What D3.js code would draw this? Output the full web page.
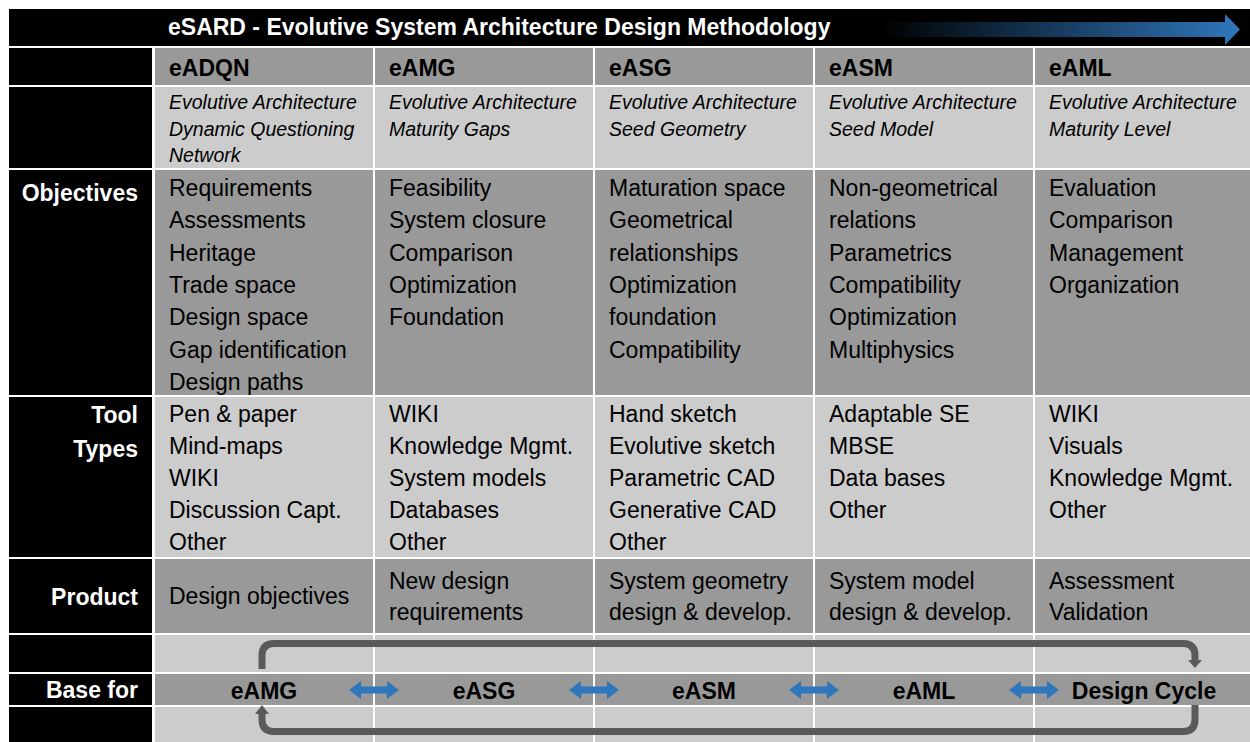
<!DOCTYPE html>
<html>
<head>
<meta charset="utf-8">
<script src="https://cdn.jsdelivr.net/npm/d3@7"></script>
<style>
  html, body { margin: 0; padding: 0; background: #fff; }
  svg { display: block; font-family: "Liberation Sans", Arial, sans-serif; }
</style>
</head>
<body>
<svg id="chart" width="1250" height="742"></svg>
<script>
// ---------------- DATA ----------------
const title = "eSARD - Evolutive System Architecture Design Methodology";
const stages = ["eADQN", "eAMG", "eASG", "eASM", "eAML"];
const subtitles = [
  ["Evolutive Architecture", "Dynamic Questioning", "Network"],
  ["Evolutive Architecture", "Maturity Gaps"],
  ["Evolutive Architecture", "Seed Geometry"],
  ["Evolutive Architecture", "Seed Model"],
  ["Evolutive Architecture", "Maturity Level"]
];
const objectives = [
  ["Requirements", "Assessments", "Heritage", "Trade space", "Design space", "Gap identification", "Design paths"],
  ["Feasibility", "System closure", "Comparison", "Optimization", "Foundation"],
  ["Maturation space", "Geometrical", "relationships", "Optimization", "foundation", "Compatibility"],
  ["Non-geometrical", "relations", "Parametrics", "Compatibility", "Optimization", "Multiphysics"],
  ["Evaluation", "Comparison", "Management", "Organization"]
];
const toolTypes = [
  ["Pen & paper", "Mind-maps", "WIKI", "Discussion Capt.", "Other"],
  ["WIKI", "Knowledge Mgmt.", "System models", "Databases", "Other"],
  ["Hand sketch", "Evolutive sketch", "Parametric CAD", "Generative CAD", "Other"],
  ["Adaptable SE", "MBSE", "Data bases", "Other"],
  ["WIKI", "Visuals", "Knowledge Mgmt.", "Other"]
];
const products = [
  ["Design objectives"],
  ["New design", "requirements"],
  ["System geometry", "design & develop."],
  ["System model", "design & develop."],
  ["Assessment", "Validation"]
];
const baseFor = ["eAMG", "eASG", "eASM", "eAML", "Design Cycle"];
const rowLabels = {
  objectives: ["Objectives"],
  tools: ["Tool", "Types"],
  product: ["Product"],
  base: ["Base for"]
};

// ---------------- LAYOUT ----------------
const W = 1250, H = 742;
const DARK = "#999999", LIGHT = "#cccccc", BLUE = "#2f77bd", LOOP = "#5a5a5a";
const svg = d3.select("#chart");
svg.append("rect").attr("width", W).attr("height", H).attr("fill", "#fff");

const x = d3.scaleBand().domain(d3.range(stages.length)).range([155, 1255]);
const colW = x.bandwidth() - 2;
const labelX0 = 9, labelX1 = 152, labelRight = 138;
const textPad = 14;

const rows = [
  { key: "header",     y0: 48,  y1: 85,  fill: DARK },
  { key: "subtitle",   y0: 87,  y1: 168, fill: LIGHT },
  { key: "objectives", y0: 170, y1: 395, fill: DARK },
  { key: "tools",      y0: 397, y1: 557, fill: LIGHT },
  { key: "product",    y0: 559, y1: 633, fill: DARK },
  { key: "blank1",     y0: 635, y1: 672, fill: LIGHT },
  { key: "base",       y0: 674, y1: 705, fill: DARK },
  { key: "blank2",     y0: 707, y1: 745, fill: LIGHT }
];

// Title row
svg.append("rect").attr("x", labelX0).attr("y", 9).attr("width", W - labelX0).attr("height", 37).attr("fill", "#000");
svg.append("text").attr("x", 168).attr("y", 35).attr("fill", "#fff")
  .attr("font-weight", "bold").attr("font-size", 23).text(title);

// Title gradient arrow
const defs = svg.append("defs");
const grad = defs.append("linearGradient").attr("id", "tgrad").attr("x1", "0%").attr("x2", "100%");
grad.append("stop").attr("offset", "0%").attr("stop-color", "#2f77bd").attr("stop-opacity", 0);
grad.append("stop").attr("offset", "100%").attr("stop-color", "#2f77bd").attr("stop-opacity", 1);
svg.append("path")
  .attr("d", "M880,22 H1225 V14 L1240,29.5 L1225,45 V37 H880 Z")
  .attr("fill", "url(#tgrad)");

// Label column + cells
rows.forEach(r => {
  svg.append("rect").attr("x", labelX0).attr("y", r.y0).attr("width", labelX1 - labelX0)
    .attr("height", r.y1 - r.y0).attr("fill", "#000");
  stages.forEach((s, i) => {
    svg.append("rect").attr("x", x(i)).attr("y", r.y0).attr("width", colW)
      .attr("height", r.y1 - r.y0).attr("fill", r.fill);
  });
});

// Row labels
const labelBase = { objectives: [201], tools: [423, 457], product: [605], base: [698] };
Object.keys(rowLabels).forEach(k => {
  rowLabels[k].forEach((t, j) => {
    svg.append("text").attr("x", labelRight).attr("y", labelBase[k][j])
      .attr("text-anchor", "end").attr("fill", "#fff").attr("font-weight", "bold")
      .attr("font-size", 23).text(t);
  });
});

// Header row
svg.selectAll("text.hdr").data(stages).join("text").attr("class", "hdr")
  .attr("x", (d, i) => x(i) + textPad).attr("y", 76)
  .attr("font-weight", "bold").attr("font-size", 23).attr("fill", "#000").text(d => d);

// Multi-line cell helper
function lines(data, y0, step, opts) {
  data.forEach((arr, i) => {
    const g = svg.append("g");
    const start = typeof y0 === "function" ? y0(arr) : y0;
    arr.forEach((t, j) => {
      const tx = g.append("text").attr("x", x(i) + textPad).attr("y", start + j * step)
        .attr("font-size", opts.size).attr("fill", "#000").text(t);
      if (opts.italic) tx.attr("font-style", "italic");
    });
  });
}
lines(subtitles, 109, 26.5, { size: 19.5, italic: true });
lines(objectives, 196, 32.3, { size: 23 });
lines(toolTypes, 422, 32, { size: 23 });
lines(products, arr => arr.length === 1 ? 604 : 589, 31, { size: 23 });

// Base for row
const cx = i => x(i) + colW / 2;
svg.selectAll("text.base").data(baseFor).join("text").attr("class", "base")
  .attr("x", (d, i) => cx(i)).attr("y", 699).attr("text-anchor", "middle")
  .attr("font-weight", "bold").attr("font-size", 23).attr("fill", "#000").text(d => d);

// Blue double arrows between base-for items
const ay = 690;
d3.range(baseFor.length - 1).forEach(i => {
  const c = x(i + 1) - 1; // boundary between columns
  const hl = 12, hw = 9, sw = 3.5, half = 25;
  const p = `M${c - half},${ay} L${c - half + hl},${ay - hw} V${ay - sw} H${c + half - hl} V${ay - hw} ` +
            `L${c + half},${ay} L${c + half - hl},${ay + hw} V${ay + sw} H${c - half + hl} V${ay + hw} Z`;
  svg.append("path").attr("d", p).attr("fill", BLUE);
});

// Gray loop arrows
const xa = cx(0) - 2, xb = cx(4) + 51, rr = 12;
const topY = 643.5, botY = 731.5;
svg.append("path")
  .attr("d", `M${xa},669 V${topY + rr} Q${xa},${topY} ${xa + rr},${topY} H${xb - rr} Q${xb},${topY} ${xb},${topY + rr} V661`)
  .attr("fill", "none").attr("stroke", LOOP).attr("stroke-width", 7);
svg.append("path").attr("d", `M${xb - 7},660 H${xb + 7} L${xb},668 Z`).attr("fill", LOOP);
svg.append("path")
  .attr("d", `M${xb},705 V${botY - rr} Q${xb},${botY} ${xb - rr},${botY} H${xa + rr} Q${xa},${botY} ${xa},${botY - rr} V713`)
  .attr("fill", "none").attr("stroke", LOOP).attr("stroke-width", 7);
svg.append("path").attr("d", `M${xa - 7},714 H${xa + 7} L${xa},705 Z`).attr("fill", LOOP);
</script>
</body>
</html>
